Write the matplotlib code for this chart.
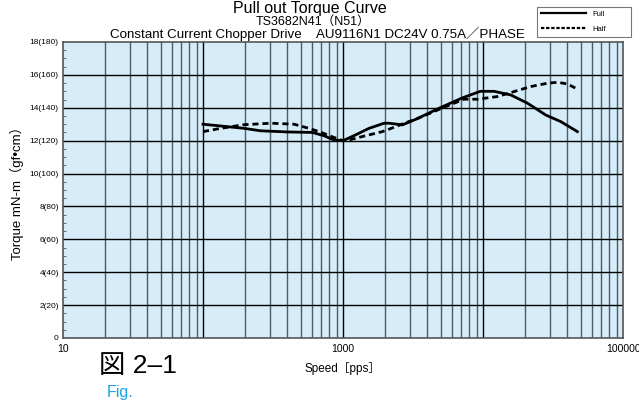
import numpy as np
import matplotlib
matplotlib.use("Agg")
import matplotlib.pyplot as plt
from matplotlib.lines import Line2D
from matplotlib.ticker import FixedLocator, NullFormatter, NullLocator

plt.rcParams['font.family'] = ['Liberation Sans', 'Noto Sans CJK JP', 'DejaVu Sans']

# Full step drive
full_speed = [100, 196, 258, 400, 604, 731, 863, 1000, 1230, 1535, 1964, 2130,
              2655, 3310, 4850, 7110, 9560, 12000, 15780, 20750, 28070, 35900, 47200]
full_torque = [13.0, 12.75, 12.6, 12.53, 12.5, 12.3, 12.04, 12.0, 12.35, 12.75, 13.06, 13.06,
               12.96, 13.3, 13.97, 14.6, 15.0, 15.0, 14.78, 14.28, 13.56, 13.16, 12.55]

# Half step drive
half_speed = [100, 134, 196, 305, 447, 571, 700, 860, 1000, 1100, 1375, 1910, 2380,
              2730, 3310, 4850, 7310, 9100, 12650, 16600, 21900, 28800, 34000, 40000, 45900]
half_torque = [12.55, 12.75, 12.97, 13.06, 13.0, 12.75, 12.5, 12.2, 12.0, 12.04, 12.25, 12.55, 12.85,
               13.06, 13.3, 13.9, 14.52, 14.52, 14.68, 14.98, 15.29, 15.49, 15.55, 15.45, 15.19]

ytick_vals = [0, 2, 4, 6, 8, 10, 12, 14, 16, 18]
ytick_labels = ["0", "2(20)", "4(40)", "6(60)", "8(80)", "10(100)",
                "12(120)", "14(140)", "16(160)", "18(180)"]
xtick_vals = [10, 1000, 100000]
xtick_labels = ["10", "1000", "100000"]

fig = plt.figure(figsize=(6.39, 4.03), dpi=100)
ax = fig.add_axes([0.0986, 0.1613, 0.8764, 0.7345])
ax.set_facecolor("#d6ecf9")
ax.set_xscale("log")
ax.set_xlim(10, 100000)
ax.set_ylim(0, 18)

# grid: decades black, sub-decades dark grey
minor_x = [m * 10 ** d for d in range(1, 5) for m in range(2, 10)]
for xv in minor_x:
    ax.axvline(xv, color="#4e5a64", lw=1.0, zorder=1)
for xv in [100, 1000, 10000]:
    ax.axvline(xv, color="black", lw=1.0, zorder=1)
for yv in ytick_vals[1:-1]:
    ax.axhline(yv, color="black", lw=1.0, zorder=1)

ax.plot(full_speed, full_torque, color="black", lw=2.0, zorder=3)
ax.plot(half_speed, half_torque, color="black", lw=2.0, zorder=3, dashes=(2.2, 1.4))

ax.xaxis.set_major_locator(FixedLocator(xtick_vals))
ax.set_xticklabels(xtick_labels, fontsize=7.5)
ax.xaxis.set_minor_locator(NullLocator())
ax.xaxis.set_minor_formatter(NullFormatter())
ax.tick_params(axis="x", length=0, pad=4)

ax.set_yticks(ytick_vals)
ax.set_yticklabels(ytick_labels, fontsize=6)
ax.yaxis.set_minor_locator(FixedLocator(np.arange(0, 18.01, 0.5)))
ax.tick_params(axis="y", which="major", length=0, pad=3)
ax.tick_params(axis="y", which="minor", length=2, direction="in", color="#555555")
for s in ax.spines.values():
    s.set_color("#555555")
    s.set_linewidth(1.2)

ax.set_ylabel("Torque mN-m（gf•cm）", fontsize=9.5, labelpad=4)
ax.set_xlabel("Speed［pps］", fontsize=8.5, labelpad=6)

fig.text(0.485, 0.978, "Pull out Torque Curve", fontsize=11.5, ha="center", va="center")
fig.text(0.49, 0.947, "TS3682N41（N51）", fontsize=9, ha="center", va="center")
fig.text(0.497, 0.916, "Constant Current Chopper Drive    AU9116N1 DC24V 0.75A／PHASE",
         fontsize=9.6, ha="center", va="center")

handles = [Line2D([], [], color="black", lw=1.6),
           Line2D([], [], color="black", lw=1.6, dashes=(1.5, 0.8))]
leg = fig.legend(handles, ["Full", "Half"], loc="upper left",
                 bbox_to_anchor=(533 / 639, 1 - 38 / 403, 102 / 639, 35 / 403),
                 mode="expand", fontsize=5.5, frameon=True, fancybox=False,
                 edgecolor="#555555", handlelength=6, borderpad=0.5, labelspacing=1.0)
leg.get_frame().set_linewidth(0.8)

fig.text(0.155, 0.092, "図 2–1", fontsize=19, ha="left", va="center")
fig.text(0.167, 0.025, "Fig.", fontsize=11.5, color="#1ba1e2", ha="left", va="center")

fig.savefig("out.png", dpi=100)
